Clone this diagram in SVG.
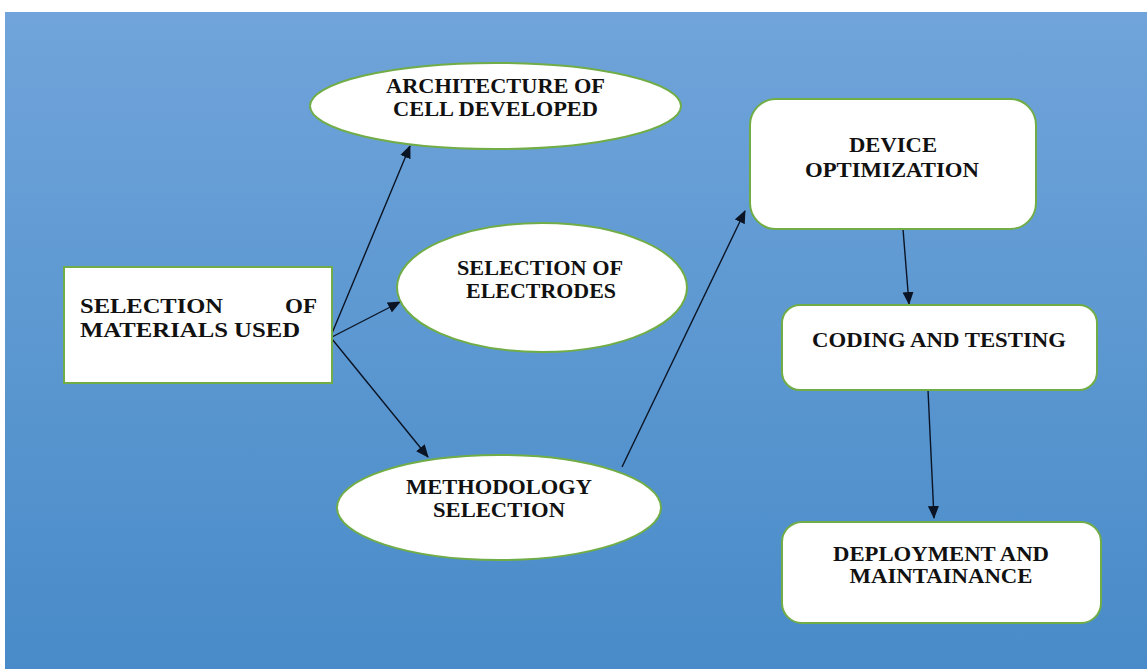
<svg xmlns="http://www.w3.org/2000/svg" width="1147" height="669" viewBox="0 0 1147 669">
  <defs>
    <linearGradient id="bg" x1="0" y1="0" x2="0" y2="1">
      <stop offset="0" stop-color="#70a4da"/>
      <stop offset="1" stop-color="#488bc8"/>
    </linearGradient>
    <marker id="arrow" markerWidth="13" markerHeight="11" refX="12" refY="5.5" orient="auto" markerUnits="userSpaceOnUse">
      <path d="M0,0 L13,5.5 L0,11 z" fill="#0b1424"/>
    </marker>
    <style>
      .node { fill: #ffffff; stroke: #70ad47; stroke-width: 2; }
      .lbl { font-family: "Liberation Serif", "Times New Roman", serif; font-weight: bold; font-size: 20px; fill: #111111; }
      .mid { text-anchor: middle; }
      .conn { stroke: #0b1424; stroke-width: 1.4; fill: none; marker-end: url(#arrow); }
    </style>
  </defs>
  <rect x="0" y="0" width="1147" height="669" fill="#ffffff"/>
  <rect x="5" y="12" width="1142" height="657" fill="url(#bg)"/>

  <g id="connectors">
    <line class="conn" x1="330" y1="338" x2="410" y2="146"/>
    <line class="conn" x1="330" y1="338" x2="400" y2="302"/>
    <line class="conn" x1="332" y1="339" x2="428" y2="457"/>
    <line class="conn" x1="622" y1="467" x2="745" y2="211"/>
    <line class="conn" x1="903" y1="229" x2="909" y2="304"/>
    <line class="conn" x1="928" y1="390" x2="934" y2="518"/>
  </g>

  <g id="materials">
    <rect class="node" x="64" y="267" width="268" height="116"/>
    <text class="lbl" x="80" y="313" textLength="143" lengthAdjust="spacingAndGlyphs">SELECTION</text>
    <text class="lbl" x="285" y="313" textLength="32" lengthAdjust="spacingAndGlyphs">OF</text>
    <text class="lbl" x="80" y="337" textLength="220" lengthAdjust="spacingAndGlyphs">MATERIALS USED</text>
  </g>

  <g id="architecture">
    <ellipse class="node" cx="495.5" cy="106" rx="185.5" ry="43"/>
    <text class="lbl mid" x="495.5" y="93" textLength="219" lengthAdjust="spacingAndGlyphs">ARCHITECTURE OF</text>
    <text class="lbl mid" x="495.5" y="116" textLength="205" lengthAdjust="spacingAndGlyphs">CELL DEVELOPED</text>
  </g>

  <g id="electrodes">
    <ellipse class="node" cx="542" cy="287.5" rx="145" ry="64.5"/>
    <text class="lbl mid" x="540" y="275" textLength="166" lengthAdjust="spacingAndGlyphs">SELECTION OF</text>
    <text class="lbl mid" x="541" y="298" textLength="150" lengthAdjust="spacingAndGlyphs">ELECTRODES</text>
  </g>

  <g id="methodology">
    <ellipse class="node" cx="499" cy="507.5" rx="162" ry="52.5"/>
    <text class="lbl mid" x="499" y="494" textLength="186" lengthAdjust="spacingAndGlyphs">METHODOLOGY</text>
    <text class="lbl mid" x="499" y="517" textLength="132" lengthAdjust="spacingAndGlyphs">SELECTION</text>
  </g>

  <g id="device">
    <rect class="node" x="750" y="99" width="286" height="130" rx="26" ry="26"/>
    <text class="lbl mid" x="893" y="152" textLength="88" lengthAdjust="spacingAndGlyphs">DEVICE</text>
    <text class="lbl mid" x="892" y="177" textLength="174" lengthAdjust="spacingAndGlyphs">OPTIMIZATION</text>
  </g>

  <g id="coding">
    <rect class="node" x="782" y="305" width="315" height="85" rx="18" ry="18"/>
    <text class="lbl mid" x="939" y="347" textLength="254" lengthAdjust="spacingAndGlyphs">CODING AND TESTING</text>
  </g>

  <g id="deployment">
    <rect class="node" x="782" y="522" width="319" height="101" rx="20" ry="20"/>
    <text class="lbl mid" x="941" y="561" textLength="216" lengthAdjust="spacingAndGlyphs">DEPLOYMENT AND</text>
    <text class="lbl mid" x="941" y="583" textLength="183" lengthAdjust="spacingAndGlyphs">MAINTAINANCE</text>
  </g>
</svg>
